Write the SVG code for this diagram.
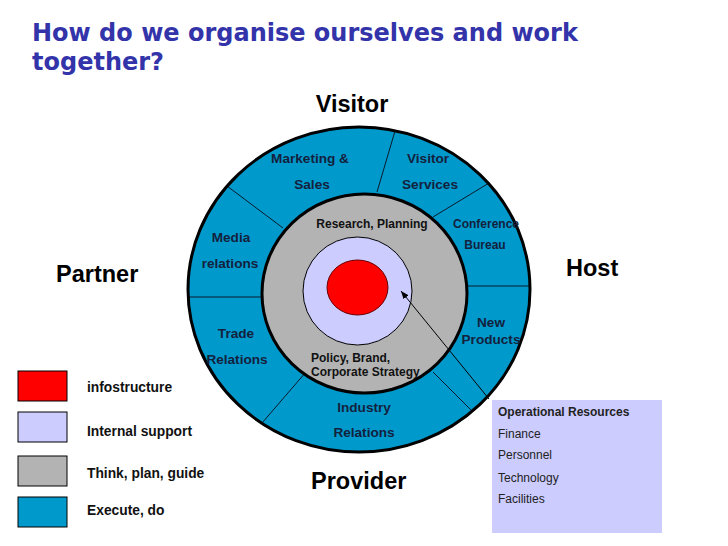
<svg xmlns="http://www.w3.org/2000/svg" width="728" height="546" viewBox="0 0 728 546">
<defs>
<style>
.title{font-family:"DejaVu Sans",Verdana,sans-serif;font-weight:bold;font-size:24px;fill:#3333AA}
.dir{font-family:"Liberation Sans",Arial,sans-serif;font-weight:bold;font-size:23.5px;fill:#000}
.seg{font-family:"Liberation Sans",Arial,sans-serif;font-weight:bold;font-size:13.6px;fill:#14213d;text-anchor:middle}
.seg-s{font-family:"Liberation Sans",Arial,sans-serif;font-weight:bold;font-size:12px;fill:#14213d;text-anchor:middle}
.inner{font-family:"Liberation Sans",Arial,sans-serif;font-weight:bold;font-size:12px;fill:#111}
.leg{font-family:"Liberation Sans",Arial,sans-serif;font-weight:bold;font-size:13.8px;fill:#111}
.ops{font-family:"Liberation Sans",Arial,sans-serif;font-size:12px;fill:#222}
.div{stroke:#0a1a2a;stroke-width:1;fill:none}
.box{stroke:#000;stroke-width:1}
</style>
<marker id="ah" viewBox="0 0 10 10" refX="10" refY="5" markerWidth="8" markerHeight="8" orient="auto" markerUnits="userSpaceOnUse">
<path d="M0,1 L10,5 L0,9 z" fill="#000"/>
</marker>
</defs>
<rect width="728" height="546" fill="#fff"/>
<g id="title">
<text class="title" x="32" y="41">How do we organise ourselves and work</text>
<text class="title" x="32" y="70">together?</text>
</g>
<g id="ring">
<ellipse cx="359" cy="289.5" rx="171" ry="162.5" fill="#0099CC"/>
<line class="div" x1="377" y1="192" x2="395" y2="131"/>
<line class="div" x1="433" y1="217" x2="489" y2="183"/>
<line class="div" x1="283" y1="228" x2="227" y2="186"/>
<line class="div" x1="262" y1="297" x2="188" y2="297"/>
<line class="div" x1="467" y1="286" x2="530" y2="286"/>
<line class="div" x1="306" y1="372" x2="262" y2="423"/>
<line class="div" x1="433" y1="372" x2="473" y2="412"/>
<ellipse cx="359" cy="289.5" rx="171" ry="162.5" fill="none" stroke="#000" stroke-width="3"/>
</g>
<g id="think">
<ellipse cx="364.5" cy="293.5" rx="102.5" ry="99.5" fill="#B3B3B3" stroke="#000" stroke-width="3"/>
</g>
<g id="support">
<ellipse cx="357.5" cy="291" rx="54.5" ry="54" fill="#CCCCFF" stroke="#000" stroke-width="1"/>
</g>
<g id="infra">
<ellipse cx="357.5" cy="287.5" rx="30.5" ry="27.5" fill="#FF0000" stroke="#600" stroke-width="1"/>
</g>
<g id="connectors">
<line x1="489" y1="399" x2="401" y2="291" stroke="#000" stroke-width="1" marker-end="url(#ah)"/>
</g>
<g id="marketing"><text class="seg" x="310" y="163">Marketing &amp;</text><text class="seg" x="312" y="189">Sales</text></g>
<g id="visitor-services"><text class="seg" x="428" y="163">Visitor</text><text class="seg" x="430" y="189">Services</text></g>
<g id="conference"><text class="seg-s" x="486" y="228">Conference</text><text class="seg-s" x="485" y="249">Bureau</text></g>
<g id="media"><text class="seg" x="231" y="242">Media</text><text class="seg" x="230" y="268">relations</text></g>
<g id="trade"><text class="seg" x="236" y="338">Trade</text><text class="seg" x="237" y="364">Relations</text></g>
<g id="new-products"><text class="seg" x="491" y="327">New</text><text class="seg" x="491" y="344">Products</text></g>
<g id="industry"><text class="seg" x="364" y="412">Industry</text><text class="seg" x="364" y="437">Relations</text></g>
<g id="research"><text class="inner" x="372" y="228" text-anchor="middle">Research, Planning</text></g>
<g id="policy"><text class="inner" x="311" y="362">Policy, Brand,</text><text class="inner" x="311" y="376">Corporate Strategy</text></g>
<g id="dir-visitor"><text class="dir" x="352" y="112" text-anchor="middle" font-size="24.5">Visitor</text></g>
<g id="dir-partner"><text class="dir" x="56" y="282">Partner</text></g>
<g id="dir-host"><text class="dir" x="566" y="276">Host</text></g>
<g id="dir-provider"><text class="dir" x="311" y="489">Provider</text></g>
<g id="legend">
<rect class="box" x="18" y="371" width="49" height="30" fill="#FF0000"/>
<rect class="box" x="18" y="412" width="49" height="30" fill="#CCCCFF"/>
<rect class="box" x="18" y="456" width="49" height="30" fill="#B3B3B3"/>
<rect class="box" x="18" y="497" width="49" height="30" fill="#0099CC"/>
<text class="leg" x="87" y="392">infostructure</text>
<text class="leg" x="87" y="436">Internal support</text>
<text class="leg" x="87" y="478">Think, plan, guide</text>
<text class="leg" x="87" y="515">Execute, do</text>
</g>
<g id="ops">
<rect x="492" y="400" width="170" height="133" fill="#CCCCFF"/>
<text class="ops" x="498" y="416" font-weight="bold" fill="#111">Operational Resources</text>
<text class="ops" x="498" y="438">Finance</text>
<text class="ops" x="498" y="459">Personnel</text>
<text class="ops" x="498" y="482">Technology</text>
<text class="ops" x="498" y="503">Facilities</text>
</g>
</svg>
